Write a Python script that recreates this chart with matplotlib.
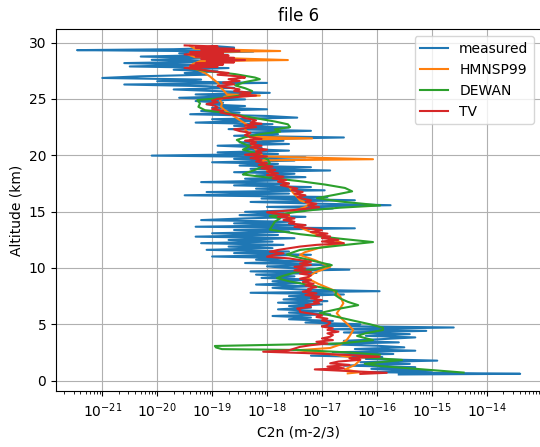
import numpy as np
import matplotlib
matplotlib.use("Agg")
import matplotlib.pyplot as plt

# Balloon sounding: altitude (km) and log10 of C2n (m^-2/3)
measured_alt = [
    29.70, 29.56, 29.41, 29.33, 29.20, 29.05, 28.91, 28.76, 28.62, 28.47,
    28.32, 28.18, 28.03, 27.88, 27.74, 27.59, 27.45, 27.30, 27.15, 27.01,
    26.86, 26.72, 26.57, 26.42, 26.28, 26.13, 25.98, 25.84, 25.69, 25.54,
    25.40, 25.25, 25.10, 24.96, 24.81, 24.66, 24.52, 24.37, 24.22, 24.08,
    23.93, 23.78, 23.64, 23.49, 23.34, 23.20, 23.05, 22.90, 22.76, 22.61,
    22.46, 22.32, 22.17, 22.02, 21.88, 21.73, 21.58, 21.44, 21.29, 21.14,
    21.00, 20.85, 20.70, 20.56, 20.41, 20.26, 20.12, 19.97, 19.82, 19.68,
    19.53, 19.38, 19.24, 19.09, 18.94, 18.80, 18.65, 18.50, 18.36, 18.21,
    18.06, 17.92, 17.77, 17.62, 17.48, 17.33, 17.18, 17.04, 16.89, 16.74,
    16.60, 16.45, 16.30, 16.16, 16.01, 15.86, 15.72, 15.57, 15.42, 15.28,
    15.13, 14.98, 14.84, 14.69, 14.54, 14.40, 14.25, 14.10, 13.96, 13.81,
    13.66, 13.52, 13.37, 13.22, 13.08, 12.93, 12.78, 12.64, 12.49, 12.34,
    12.20, 12.05, 11.90, 11.76, 11.61, 11.46, 11.32, 11.17, 11.02, 10.88,
    10.73, 10.58, 10.44, 10.29, 10.14, 10.00, 9.85, 9.70, 9.56, 9.41,
    9.26, 9.12, 8.97, 8.82, 8.68, 8.53, 8.38, 8.24, 8.09, 7.94,
    7.80, 7.65, 7.50, 7.36, 7.21, 7.06, 6.92, 6.77, 6.62, 6.48,
    6.33, 6.18, 6.04, 5.89, 5.74, 5.60, 5.45, 5.30, 5.16, 5.01,
    4.86, 4.72, 4.57, 4.42, 4.28, 4.13, 3.98, 3.84, 3.69, 3.54,
    3.40, 3.25, 3.10, 2.96, 2.81, 2.66, 2.52, 2.37, 2.22, 2.08,
    1.93, 1.78, 1.64, 1.49, 1.34, 1.20, 1.05, 0.90, 0.76, 0.66,
    0.61, 0.55,
]
measured_log10 = [
    -19.0, -18.6, -19.7, -21.46, -18.25, -19.6, -18.8, -20.3, -19.0, -20.1,
    -18.9, -20.6, -19.2, -20.5, -18.7, -19.7, -18.9, -19.5, -19.1, -20.3,
    -21.0, -19.2, -20.0, -18.0, -20.6, -19.1, -18.6, -19.7, -18.9, -17.95,
    -19.3, -18.5, -19.6, -18.4, -19.3, -18.8, -19.1, -18.4, -19.0, -18.0,
    -19.2, -18.5, -19.4, -18.0, -17.45, -19.0, -18.3, -19.3, -17.9, -18.6,
    -17.6, -18.7, -17.2, -18.3, -17.8, -18.6, -16.6, -18.2, -17.7, -18.5,
    -17.6, -18.9, -18.1, -18.4, -17.6, -18.9, -17.8, -20.1, -17.3, -18.6,
    -17.5, -19.0, -17.8, -18.5, -17.2, -18.3, -16.85, -18.6, -17.5, -18.2,
    -17.3, -18.4, -17.7, -19.2, -17.6, -18.6, -17.2, -18.2, -16.95, -19.1,
    -17.6, -19.5, -16.9, -18.1, -16.4, -18.3, -17.2, -15.75, -18.0, -16.8,
    -17.4, -18.4, -17.7, -18.5, -17.3, -18.4, -19.2, -17.6, -18.6, -17.3,
    -19.3, -16.4, -18.6, -17.6, -19.0, -17.8, -19.3, -17.5, -18.7, -17.9,
    -19.2, -17.7, -18.7, -17.9, -19.1, -17.6, -18.6, -17.2, -19.0, -17.7,
    -18.2, -17.3, -18.4, -16.85, -18.0, -17.6, -16.5, -18.3, -17.1, -18.2,
    -17.5, -18.1, -17.2, -17.9, -17.4, -18.2, -17.2, -17.9, -17.4, -15.95,
    -18.3, -16.6, -17.6, -17.1, -17.7, -16.9, -17.8, -17.0, -17.6, -17.2,
    -17.8, -17.0, -17.6, -16.85, -17.9, -17.2, -17.6, -16.8, -17.3, -16.3,
    -17.0, -14.6, -16.8, -15.1, -16.6, -15.4, -16.2, -15.3, -15.9, -16.6,
    -15.6, -17.0, -16.0, -15.5, -16.4, -15.3, -16.8, -15.7, -17.2, -15.9,
    -16.2, -14.9, -16.3, -15.4, -16.6, -15.3, -16.1, -15.0, -16.2, -14.2,
    -13.39, -15.6,
]

# HMNSP99 model profile
hmnsp99_alt = [
    29.70, 29.45, 29.25, 29.15, 28.95, 28.70, 28.45, 28.35, 28.10, 27.85,
    27.60, 27.30, 27.00, 26.75, 26.40, 26.10, 25.70, 25.40, 25.30, 25.20,
    24.90, 24.60, 24.30, 24.00, 23.60, 23.10, 22.70, 22.30, 22.00, 21.65,
    21.50, 21.40, 21.00, 20.70, 20.30, 19.90, 19.65, 19.55, 19.20, 18.70,
    18.30, 17.90, 17.50, 17.10, 16.70, 16.30, 16.00, 15.70, 15.40, 15.10,
    14.85, 14.40, 14.00, 13.50, 13.10, 12.60, 12.20, 11.80, 11.40, 11.15,
    10.70, 10.10, 9.60, 9.10, 8.60, 8.05, 7.50, 6.87, 6.40, 5.98,
    5.50, 5.00, 4.50, 4.00, 3.60, 3.20, 2.90, 2.70, 2.50, 2.10,
    1.80, 1.40, 1.00, 0.75, 0.65,
]
hmnsp99_log10 = [
    -19.40, -19.31, -17.76, -19.36, -19.44, -19.31, -17.62, -19.22, -19.35, -19.40,
    -19.27, -19.13, -19.04, -18.98, -18.89, -18.86, -18.78, -18.73, -18.13, -18.77,
    -18.86, -18.82, -18.84, -18.77, -18.64, -18.49, -18.36, -18.40, -18.35, -18.31,
    -17.18, -18.31, -18.27, -18.25, -18.16, -18.07, -16.07, -18.09, -18.04, -18.00,
    -17.91, -17.80, -17.67, -17.58, -17.53, -17.45, -17.40, -17.22, -17.31, -17.49,
    -17.62, -17.58, -17.53, -17.35, -17.16, -16.85, -16.61, -17.04, -17.31, -17.40,
    -17.13, -16.85, -17.13, -17.27, -17.07, -16.80, -16.67, -16.61, -16.67, -16.73,
    -16.64, -16.53, -16.43, -16.49, -16.55, -16.67, -16.85, -17.45, -17.04, -16.49,
    -16.31, -16.40, -16.58, -16.31, -16.53,
]

# DEWAN model profile
dewan_alt = [
    27.70, 27.50, 27.20, 26.90, 26.75, 26.50, 26.20, 25.95, 25.70, 25.40,
    25.10, 24.90, 24.60, 24.30, 24.00, 23.70, 23.30, 23.00, 22.75, 22.50,
    22.30, 22.10, 21.90, 21.60, 21.36, 21.10, 20.80, 20.50, 20.20, 19.90,
    19.60, 19.30, 19.00, 18.70, 18.40, 18.30, 18.00, 17.70, 17.40, 17.10,
    16.80, 16.50, 16.20, 15.90, 15.55, 15.35, 15.15, 14.90, 14.60, 14.40,
    14.10, 13.70, 13.40, 13.00, 12.60, 12.30, 12.00, 11.60, 11.20, 10.90,
    10.60, 10.25, 9.90, 9.60, 9.30, 9.10, 8.80, 8.40, 7.95, 7.60,
    7.30, 7.00, 6.70, 6.40, 6.00, 5.70, 5.30, 5.00, 4.70, 4.50,
    4.20, 3.97, 3.60, 3.30, 3.08, 2.95, 2.80, 2.72, 2.50, 2.30,
    2.10, 1.84, 1.50, 1.30, 0.72,
]
dewan_log10 = [
    -19.40, -19.13, -18.58, -18.22, -18.13, -18.40, -18.58, -18.40, -18.27, -18.36,
    -18.77, -19.27, -19.22, -19.25, -19.13, -18.67, -18.22, -17.86, -17.62, -17.58,
    -17.86, -17.76, -18.09, -18.40, -18.55, -18.46, -18.31, -18.44, -18.22, -18.09,
    -17.98, -17.95, -18.09, -18.22, -18.40, -18.44, -17.95, -17.40, -16.94, -16.58,
    -16.45, -16.76, -17.09, -16.67, -15.94, -16.67, -17.16, -17.58, -17.95, -17.76,
    -17.86, -17.91, -17.95, -17.40, -16.67, -16.07, -16.67, -17.40, -17.64, -17.40,
    -17.13, -16.82, -17.13, -17.49, -17.71, -17.82, -17.58, -17.13, -16.73, -16.76,
    -16.67, -16.53, -16.34, -16.67, -17.04, -16.76, -16.40, -16.12, -15.89, -15.89,
    -16.21, -16.36, -16.07, -16.67, -18.95, -18.93, -18.82, -17.40, -16.49, -15.94,
    -16.36, -15.54, -16.22, -15.94, -14.42,
]

# TV model profile
tv_alt = [
    29.75, 29.65, 29.55, 29.45, 29.35, 29.25, 29.15, 29.05, 28.95, 28.85,
    28.75, 28.65, 28.55, 28.45, 28.35, 28.25, 28.15, 28.05, 27.95, 27.85,
    27.75, 27.60, 27.45, 27.30, 27.15, 27.00, 26.90, 26.75, 26.60, 26.45,
    26.30, 26.15, 26.00, 25.85, 25.70, 25.55, 25.40, 25.30, 25.15, 25.00,
    24.85, 24.70, 24.55, 24.40, 24.25, 24.10, 23.95, 23.80, 23.65, 23.50,
    23.30, 23.10, 22.90, 22.80, 22.65, 22.50, 22.30, 22.15, 22.00, 21.80,
    21.60, 21.45, 21.30, 21.15, 21.00, 20.85, 20.70, 20.50, 20.35, 20.20,
    20.05, 19.90, 19.75, 19.60, 19.45, 19.30, 19.15, 19.00, 18.85, 18.70,
    18.55, 18.40, 18.25, 18.10, 17.95, 17.80, 17.65, 17.50, 17.35, 17.20,
    17.05, 16.90, 16.75, 16.60, 16.45, 16.30, 16.15, 16.00, 15.85, 15.70,
    15.55, 15.40, 15.30, 15.10, 14.95, 14.85, 14.70, 14.55, 14.40, 14.25,
    14.10, 13.95, 13.80, 13.65, 13.50, 13.35, 13.20, 13.05, 12.90, 12.80,
    12.65, 12.50, 12.35, 12.20, 12.05, 11.90, 11.75, 11.60, 11.45, 11.30,
    11.15, 11.00, 10.85, 10.70, 10.55, 10.40, 10.27, 10.10, 9.95, 9.80,
    9.65, 9.50, 9.35, 9.20, 9.05, 8.90, 8.75, 8.60, 8.45, 8.30,
    8.15, 8.05, 7.90, 7.75, 7.60, 7.45, 7.30, 7.15, 7.00, 6.87,
    6.70, 6.55, 6.40, 6.25, 6.10, 5.95, 5.80, 5.65, 5.50, 5.35,
    5.20, 5.10, 4.95, 4.80, 4.65, 4.50, 4.35, 4.20, 4.05, 3.90,
    3.75, 3.60, 3.45, 3.30, 3.15, 3.00, 2.85, 2.70, 2.57, 2.45,
    2.30, 2.13, 2.00, 1.85, 1.70, 1.54, 1.40, 1.25, 1.10, 1.00,
    0.85, 0.70, 0.60,
]
tv_log10 = [
    -19.5, -18.9, -19.3, -18.6, -19.2, -18.5, -19.4, -18.8, -19.5, -18.7,
    -19.3, -18.6, -19.2, -18.4, -19.1, -18.6, -19.3, -18.8, -19.4, -18.9,
    -19.5, -19.2, -19.0, -18.7, -18.9, -18.5, -18.4, -18.7, -18.5, -18.8,
    -18.6, -18.9, -18.7, -18.5, -18.6, -18.3, -18.5, -18.2, -18.6, -18.9,
    -19.0, -18.9, -19.1, -18.95, -18.9, -19.0, -18.8, -18.85, -18.7, -18.5,
    -18.4, -18.2, -18.3, -18.1, -18.4, -18.2, -18.6, -18.5, -18.3, -18.4,
    -18.3, -18.1, -18.4, -18.2, -18.3, -18.1, -18.3, -18.0, -18.2, -18.1,
    -18.4, -18.0, -18.3, -18.1, -18.2, -18.0, -18.15, -17.9, -18.1, -17.85,
    -18.0, -17.8, -18.0, -17.7, -17.9, -17.65, -17.8, -17.6, -17.75, -17.6,
    -17.45, -17.55, -17.35, -17.5, -17.3, -17.45, -17.35, -17.2, -17.3, -17.1,
    -17.25, -17.05, -17.2, -17.6, -18.0, -17.9, -17.6, -17.8, -17.5, -17.7,
    -17.5, -17.6, -17.3, -17.5, -17.2, -17.0, -17.2, -16.9, -17.1, -16.85,
    -17.0, -16.7, -17.0, -16.6, -17.1, -17.4, -17.6, -17.8, -17.95, -17.7,
    -17.9, -18.0, -17.6, -17.4, -17.2, -17.4, -17.2, -17.5, -17.3, -17.5,
    -17.2, -17.4, -17.2, -17.25, -17.4, -17.2, -17.35, -17.15, -17.3, -17.1,
    -17.25, -17.2, -17.35, -17.1, -17.3, -17.05, -17.2, -17.0, -17.15, -17.05,
    -17.3, -17.2, -17.45, -17.4, -17.4, -17.2, -17.0, -17.1, -16.9, -17.0,
    -16.85, -16.85, -16.9, -17.0, -16.8, -16.9, -16.7, -16.9, -16.8, -16.85,
    -17.0, -16.8, -17.1, -16.9, -17.2, -17.4, -17.5, -17.6, -18.07, -17.3,
    -16.6, -15.95, -16.5, -16.3, -16.7, -16.85, -16.5, -16.9, -16.6, -17.13,
    -16.5, -15.82, -16.3,
]

series = [
    ("measured", measured_alt, measured_log10, "#1f77b4"),
    ("HMNSP99", hmnsp99_alt, hmnsp99_log10, "#ff7f0e"),
    ("DEWAN", dewan_alt, dewan_log10, "#2ca02c"),
    ("TV", tv_alt, tv_log10, "#d62728"),
]

decade_ticks = [1e-21, 1e-20, 1e-19, 1e-18, 1e-17, 1e-16, 1e-15, 1e-14]

fig = plt.figure(figsize=(5.4, 4.47), dpi=100)
ax = fig.add_axes([0.1037, 0.1244, 0.8982, 0.8101])

for name, alt, logc, color in series:
    ax.plot(10.0 ** np.asarray(logc), alt, color=color, lw=1.5, label=name)

ax.set_xscale("log")
ax.set_xlim(10.0 ** -21.843, 10.0 ** -13.01)
ax.set_xticks(decade_ticks)
ax.set_ylim(-0.95, 31.18)
ax.set_yticks([0, 5, 10, 15, 20, 25, 30])
ax.grid(True)
ax.set_xlabel("C2n (m-2/3)")
ax.set_ylabel("Altitude (km)")
ax.set_title("file 6")
ax.legend(loc="upper right")

fig.savefig("out.png", dpi=100)
